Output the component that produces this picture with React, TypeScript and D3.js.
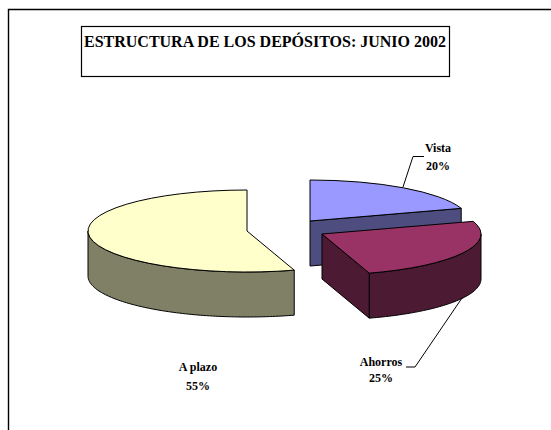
import React from 'react';
import * as d3 from 'd3';

const title = 'ESTRUCTURA DE LOS DEPÓSITOS: JUNIO 2002';
const categories = ['Vista', 'Ahorros', 'A plazo'];
// labels round these to 20 / 25 / 55, slice edges read a bit off the round values
const values = [20, 25.2, 54.8];
const topColors = ['#9999ff', '#993366', '#ffffcc'];
const sideColors = ['#4d4d80', '#4d1a33', '#808066'];

// where each exploded slice sits on the page
const centers = [[310, 221], [322, 234], [247, 231]];
const labelPos = [[438, 152, 170], [381, 366, 382], [198, 371, 390]];
const leaders = [
  [[403, 187], [413, 156.5], [424, 156.5]],
  [[462, 298], [415, 367], [406, 367]],
  [],
];

const rx = 159;
const ry = 41;
const depth = 45;
const HALF_PI = Math.PI / 2;

const pie = d3.pie<number>().sort(null).value(d => d);
const arcs = pie(values);
const arcGen = d3.arc<d3.PieArcDatum<number>>().innerRadius(0).outerRadius(rx);
const lineGen = d3.line();

const pt = (c: number[], t: number, drop = 0): [number, number] => [
  c[0] + rx * Math.sin(t),
  c[1] - ry * Math.cos(t) + drop,
];

// outer wall + cut face of a slice, only the parts facing the viewer
function walls(a: d3.PieArcDatum<number>, c: number[]) {
  const out: string[] = [];
  const from = Math.max(a.startAngle, HALF_PI);
  const to = Math.min(a.endAngle, Math.PI * 1.5);
  if (from < to) {
    const ts = d3.range(from, to, 0.02).concat(to);
    const pts = ts.map(t => pt(c, t)).concat(ts.slice().reverse().map(t => pt(c, t, depth)));
    out.push(lineGen(pts) + 'Z');
  }
  // the cut at the end of the slice looks to the front for Vista and Ahorros
  if (a.endAngle < Math.PI) {
    const e = pt(c, a.endAngle);
    const quad: [number, number][] = [[c[0], c[1]], e, [e[0], e[1] + depth], [c[0], c[1] + depth]];
    out.push(lineGen(quad) + 'Z');
  }
  return out;
}

export default function App() {
  return (
    <svg
      width={551}
      height={430}
      style={{ position: 'absolute', left: 0, top: 0, background: '#fff' }}
      fontFamily="'Liberation Serif', serif"
    >
      <path d="M8.5,430V9.5H551" fill="none" stroke="#000" strokeWidth={1.4} />
      <rect x={81.5} y={26.5} width={368} height={50} fill="#fff" stroke="#000" strokeWidth={1.2} />
      <text x={265} y={47} textAnchor="middle" fontSize={16} fontWeight="bold">{title}</text>

      {arcs.map((a, i) => (
        <g key={categories[i]}>
          {walls(a, centers[i]).map((d, j) => (
            <path key={j} d={d} fill={sideColors[i]} stroke="#000" strokeWidth={1} strokeLinejoin="round" />
          ))}
          <g transform={`translate(${centers[i][0]},${centers[i][1]}) scale(1,${ry / rx})`}>
            <path
              d={arcGen(a) as string}
              fill={topColors[i]}
              stroke="#000"
              strokeWidth={1}
              vectorEffect="non-scaling-stroke"
              strokeLinejoin="round"
            />
          </g>
        </g>
      ))}

      {leaders.map((l, i) => (
        l.length > 0 && <path key={i} d={lineGen(l as [number, number][]) as string} fill="none" stroke="#000" strokeWidth={1} />
      ))}

      {categories.map((c, i) => (
        <text key={c} textAnchor="middle" fontSize={12} fontWeight="bold" fill="#000">
          <tspan x={labelPos[i][0]} y={labelPos[i][1]}>{c}</tspan>
          <tspan x={labelPos[i][0]} y={labelPos[i][2]}>{Math.round(values[i])}%</tspan>
        </text>
      ))}
    </svg>
  );
}
